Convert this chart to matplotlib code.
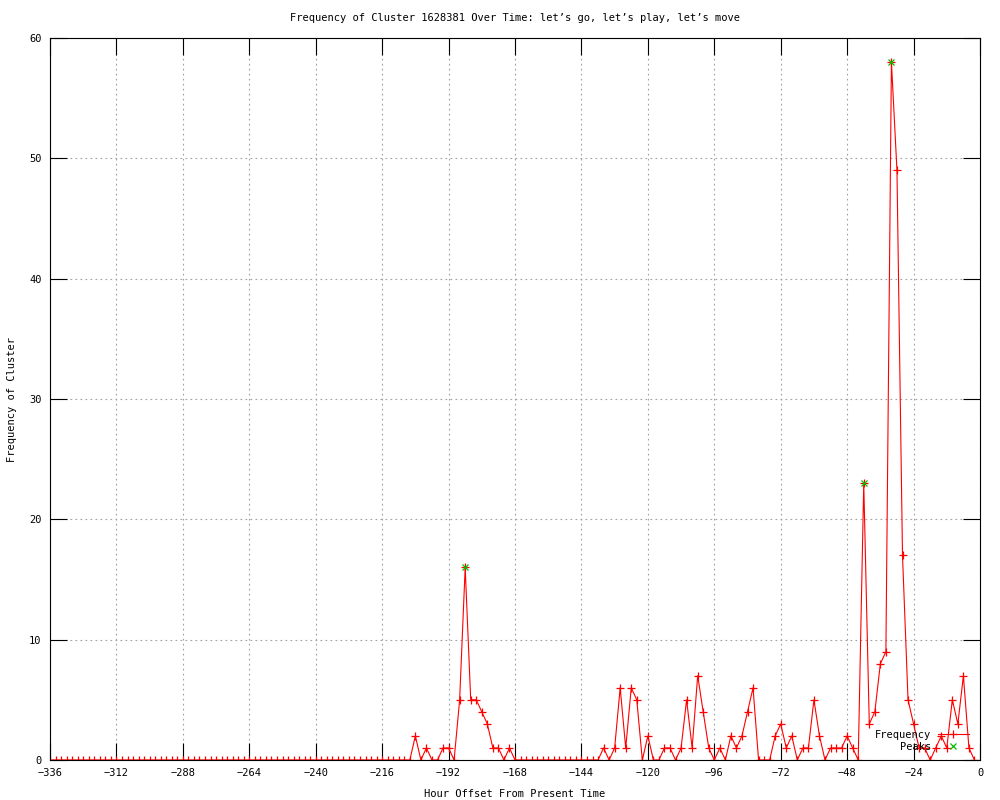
#!/usr/bin/env python3
# Frequency of a cluster over the last two weeks, gnuplot look

import numpy as np
import matplotlib
matplotlib.use("Agg")
import matplotlib.pyplot as plt
from matplotlib.ticker import MultipleLocator

# DATA
# hour offsets, one sample every 2 hours
hours = np.arange(-336, 0, 2)

# frequency per sample
frequency = (
    [0] * 66                                                    # -336 .. -206
    + [2, 0, 1, 0, 0, 1, 1, 0, 5, 16, 5, 5, 4, 3, 1, 1, 0, 1]   # -204 .. -170
    + [0] * 16                                                  # -168 .. -138
    + [1, 0, 1, 6, 1, 6, 5, 0, 2, 0,                            # -136 .. -118
       0, 1, 1, 0, 1, 5, 1, 7, 4, 1,                            # -116 .. -98
       0, 1, 0, 2, 1, 2, 4, 6, 0, 0,                            # -96 .. -78
       0, 2, 3, 1, 2, 0, 1, 1, 5, 2,                            # -76 .. -58
       0, 1, 1, 1, 2, 1, 0, 23, 3, 4,                           # -56 .. -38
       8, 9, 58, 49, 17, 5, 3, 1, 1, 0,                         # -36 .. -18
       1, 2, 1, 5, 3, 7, 1, 0]                                  # -16 .. -2
)

peak_hours = [-186, -42, -32]
peak_values = [16, 23, 58]

TITLE = "Frequency of Cluster 1628381 Over Time: let\u2019s go, let\u2019s play, let\u2019s move"
XLABEL = "Hour Offset From Present Time"
YLABEL = "Frequency of Cluster"

# gnuplot-ish style
plt.rcParams.update({
    "font.family": ["DejaVu Sans Mono", "DejaVu Sans"],
    "font.size": 7.5,
    "axes.linewidth": 0.8,
})

fig = plt.figure(figsize=(10, 8), dpi=100)
ax = fig.add_axes([0.05, 0.05, 0.93, 0.9025])

ax.plot(hours, frequency, color="#ff0000", linewidth=0.8,
        marker="+", markersize=5.5, markeredgewidth=0.9, label="Frequency")
ax.plot(peak_hours, peak_values, linestyle="none", color="#00c000",
        marker="x", markersize=5, markeredgewidth=0.9, label="Peaks")

ax.set_xlim(-336, 0)
ax.set_ylim(0, 60)
ax.xaxis.set_major_locator(MultipleLocator(24))
ax.yaxis.set_major_locator(MultipleLocator(10))

# ticks inside, mirrored on every side
ax.tick_params(direction="in", length=12, width=0.8, top=True, right=True,
               labelsize=7.5, pad=6, color="black")

# dotted grid
ax.grid(True, linestyle=(0, (1.5, 3)), color="#a0a0a0", linewidth=0.8)
ax.set_axisbelow(True)

ax.set_title(TITLE, fontsize=7.5, pad=12)
ax.set_xlabel(XLABEL, fontsize=7.5, labelpad=8)
ax.set_ylabel(YLABEL, fontsize=7.5, labelpad=9)

# key without frame, text left of the sample
ax.legend(loc="lower right", bbox_to_anchor=(0.997, 0.0), frameon=False,
          markerfirst=False, handlelength=3.0, handletextpad=0.6,
          labelspacing=0.15, borderpad=0.3, fontsize=7.5)

plt.savefig("out.png", dpi=100)
